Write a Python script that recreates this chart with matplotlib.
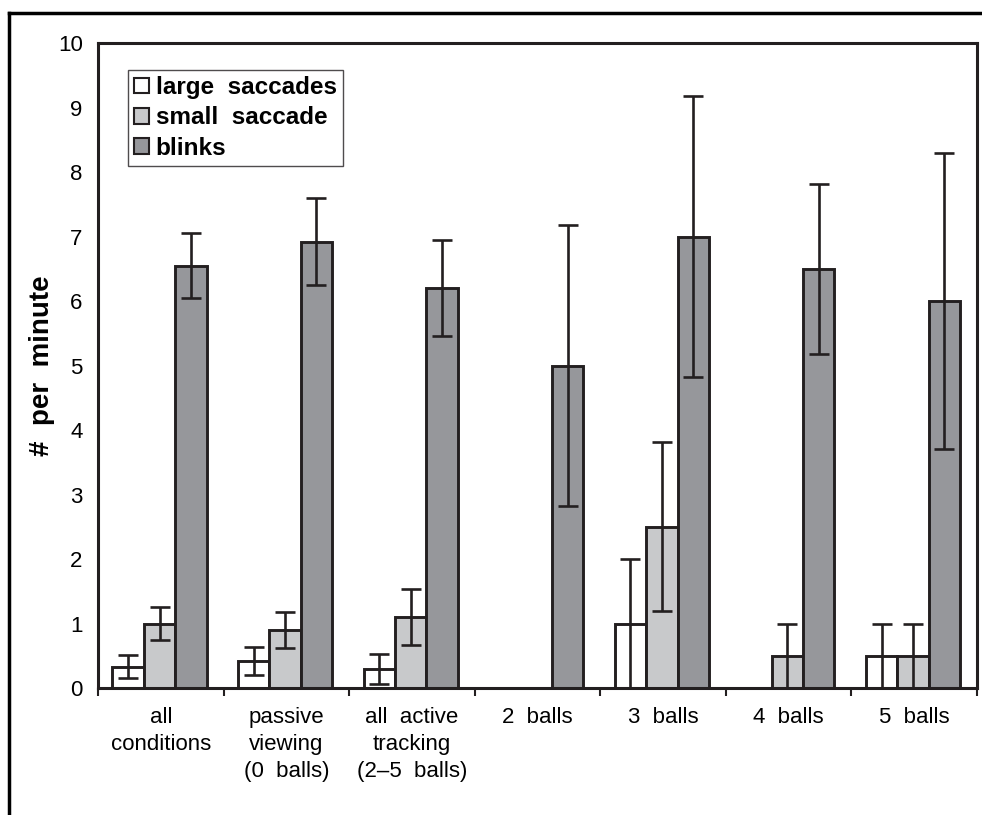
import numpy as np
import matplotlib
matplotlib.use("Agg")
import matplotlib.pyplot as plt
from matplotlib.lines import Line2D

plt.rcParams["font.family"] = ["Liberation Sans", "DejaVu Sans"]

# Data
groups = ["all\nconditions", "passive\nviewing\n(0  balls)", "all  active\ntracking\n(2\u20135  balls)",
          "2  balls", "3  balls", "4  balls", "5  balls"]
series_names = ["large  saccades", "small  saccade", "blinks"]
large = [0.33, 0.42, 0.30, 0.0, 1.0, 0.0, 0.5]
large_err = [0.18, 0.22, 0.23, np.nan, 1.0, np.nan, 0.5]
small = [1.0, 0.9, 1.1, 0.0, 2.5, 0.5, 0.5]
small_err = [0.26, 0.28, 0.43, np.nan, 1.31, 0.5, 0.5]
blinks = [6.55, 6.92, 6.2, 5.0, 7.0, 6.5, 6.0]
blinks_err = [0.5, 0.67, 0.74, 2.18, 2.18, 1.32, 2.3]

colors = ["#ffffff", "#c8c9cb", "#96979b"]
edge = "#231f20"

fig = plt.figure(figsize=(9.82, 8.15), dpi=100)
ax = fig.add_axes([0.0998, 0.1558, 0.8951, 0.7914])

x = np.arange(len(groups))
width = 0.25
values = [large, small, blinks]
errors = [large_err, small_err, blinks_err]
for i, (vals, errs) in enumerate(zip(values, errors)):
    pos = x + (i - 1) * width - 0.01
    ax.bar(pos, vals, width, color=colors[i], edgecolor=edge, linewidth=2.1,
           label=series_names[i], zorder=2)
    ax.errorbar(pos, vals, yerr=errs, fmt="none", ecolor=edge, elinewidth=1.9,
                capsize=7, capthick=1.9, zorder=3)

ax.set_xlim(-0.5, len(groups) - 0.5)
ax.set_ylim(0, 10)
ax.set_yticks(range(0, 11))
ax.tick_params(axis="y", length=0, pad=11, labelsize=16)

ax.set_xticks(x)
ax.set_xticklabels(groups, fontsize=16, linespacing=1.35)
ax.tick_params(axis="x", which="major", length=0, pad=14)
ax.set_xticks(np.arange(len(groups) + 1) - 0.5, minor=True)
ax.tick_params(axis="x", which="minor", length=6, width=1.5, color=edge)

for s in ax.spines.values():
    s.set_linewidth(2.2)
    s.set_color(edge)

ax.set_ylabel("#  per  minute", fontsize=20, fontweight="bold", labelpad=2)

leg = ax.legend(loc="upper left", bbox_to_anchor=(0.034, 0.958), borderaxespad=0,
                frameon=True, fancybox=False, edgecolor=edge, borderpad=0.25,
                labelspacing=0.3, handlelength=0.6, handleheight=0.6,
                handletextpad=0.3, prop={"size": 17.5, "weight": "bold"})
leg.get_frame().set_linewidth(1.0)
for h in leg.legend_handles:
    h.set_linewidth(1.5)

# outer frame (top and left edges only)
fig.add_artist(Line2D([0.0092, 0.0092], [0.0, 0.984], color="black", linewidth=2.5,
                      transform=fig.transFigure))
fig.add_artist(Line2D([0.0092, 1.0], [0.984, 0.984], color="black", linewidth=2.5,
                      transform=fig.transFigure))

fig.savefig("out.png", dpi=100, facecolor="white")
